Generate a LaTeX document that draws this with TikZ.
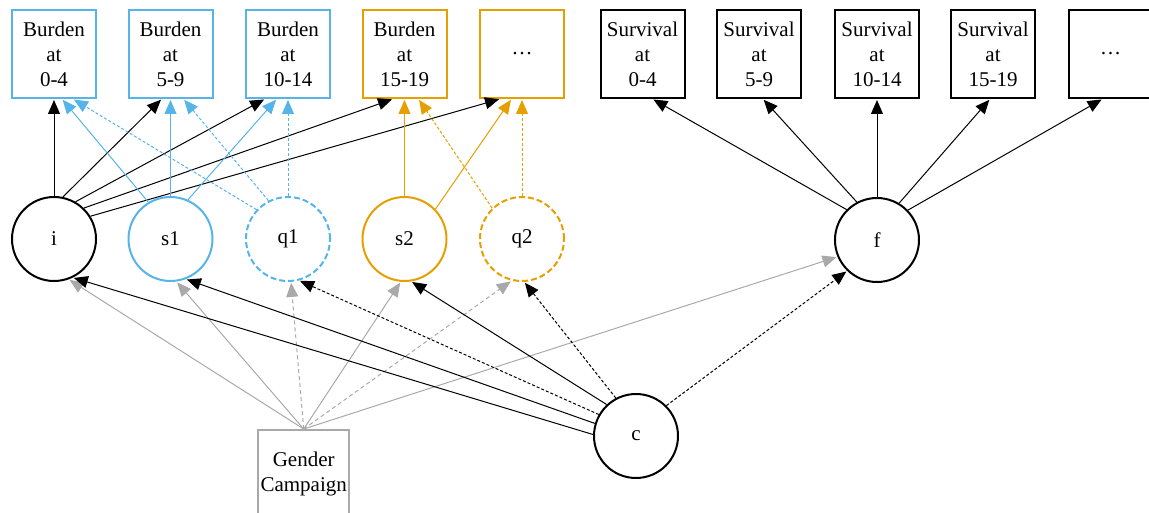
\documentclass[tikz,border=0pt]{standalone}
\usepackage{fontspec}
\setmainfont{Liberation Serif}
\usetikzlibrary{arrows.meta}
\definecolor{cblue}{HTML}{56B4E9}
\definecolor{corange}{HTML}{E69F00}
\definecolor{cgray}{HTML}{A9A9A9}
\begin{document}
\begin{tikzpicture}[x=1pt,y=-1pt,
  txt/.style={font=\fontsize{21}{25}\selectfont, align=center, text=black},
  obs/.style={draw, line width=2pt, minimum width=84pt, minimum height=88pt, inner sep=0pt, txt},
  lat/.style={draw, circle, line width=2pt, minimum size=84pt, inner sep=0pt, txt},
  dashc/.style={dash pattern=on 6pt off 3pt},
  edge/.style={line width=1pt, -{Triangle[length=14pt,width=12pt]}, shorten >=1pt},
  dsh/.style={dash pattern=on 3pt off 2pt},
  gdsh/.style={dash pattern=on 4pt off 3pt}
]
\useasboundingbox (0,0) rectangle (1149,513);
\clip (0,0) rectangle (1149,513);
% observed boxes
\node[obs, draw=cblue] (b1) at (54,54) {Burden\\at\\0-4};
\node[obs, draw=cblue] (b2) at (170.5,54) {Burden\\at\\5-9};
\node[obs, draw=cblue] (b3) at (288,54) {Burden\\at\\10-14};
\node[obs, draw=corange] (b4) at (404.5,54) {Burden\\at\\15-19};
\node[obs, draw=corange] (b5) at (522,54) {…};
\node[obs] (sv1) at (642.5,54) {Survival\\at\\0-4};
\node[obs] (sv2) at (759,54) {Survival\\at\\5-9};
\node[obs] (sv3) at (877,54) {Survival\\at\\10-14};
\node[obs] (sv4) at (993,54) {Survival\\at\\15-19};
\node[obs] (sv5) at (1110.5,54) {…};
% latent
\node[lat] (i) at (54,239) {i};
\node[lat, draw=cblue] (s1) at (170.5,239) {s1};
\node[lat, draw=cblue, dashc] (q1) at (288,239) {q1};
\node[lat, draw=corange] (s2) at (404.5,239) {s2};
\node[lat, draw=corange, dashc] (q2) at (522,239) {q2};
\node[lat] (f) at (877,240) {f};
\node[lat] (c) at (636,436) {c};
\node[obs, draw=cgray, minimum width=91pt] (g) at (303.7,474) {Gender\\Campaign};
% i loadings
\draw[edge] (i.north) -- (b1.south);
\draw[edge] (i.78) -- ([xshift=-8.8pt]b2.south);
\draw[edge] (i.60) -- ([xshift=-23pt]b3.south);
\draw[edge] (i.46) -- ([xshift=-11.5pt]b4.south);
\draw[edge] (i.32.5) -- ([xshift=-22pt]b5.south);
% s1 loadings
\draw[edge, cblue] (s1.121.4) -- ([xshift=8pt]b1.south);
\draw[edge, cblue] (s1.north) -- (b2.south);
\draw[edge, cblue] (s1.66) -- ([xshift=-11.3pt]b3.south);
% q1 loadings
\draw[edge, cblue, dsh] (q1.137) -- ([xshift=19pt]b1.south);
\draw[edge, cblue, dsh] (q1.117) -- ([xshift=13pt]b2.south);
\draw[edge, cblue, dsh] (q1.north) -- (b3.south);
% s2 loadings
\draw[edge, corange] (s2.north) -- (b4.south);
\draw[edge, corange] (s2.44) -- ([xshift=-10.5pt]b5.south);
% q2 loadings
\draw[edge, corange, dsh] (q2.134.3) -- ([xshift=14pt]b4.south);
\draw[edge, corange, dsh] (q2.north) -- (b5.south);
% f loadings
\draw[edge] (f.135.4) -- ([xshift=10pt]sv1.south);
\draw[edge] (f.118) -- ([xshift=4pt]sv2.south);
\draw[edge] (f.north) -- (sv3.south);
\draw[edge] (f.59.6) -- ([xshift=-3pt]sv4.south);
\draw[edge] (f.44.6) -- ([xshift=-8pt]sv5.south);
% gender campaign
\draw[edge, cgray] (g.north) -- (i.-70.4);
\draw[edge, cgray] (g.north) -- (s1.-82.5);
\draw[edge, cgray, gdsh] (g.north) -- (q1.-86.8);
\draw[edge, cgray] (g.north) -- (s2.-95.4);
\draw[edge, cgray, gdsh] (g.north) -- (q2.-104.6);
\draw[edge, cgray] (g.north) -- (f.-157.9);
% c
\draw[edge] (c.178.7) -- (i.-64.5);
\draw[edge] (c.163.4) -- (s1.-69.8);
\draw[edge, dsh] (c.150) -- (q1.-75);
\draw[edge] (c.133.5) -- (s2.-81);
\draw[edge, dsh] (c.118) -- (q2.-87.5);
\draw[edge, dsh] (c.45.3) -- (f.-134.8);
\end{tikzpicture}
\end{document}
